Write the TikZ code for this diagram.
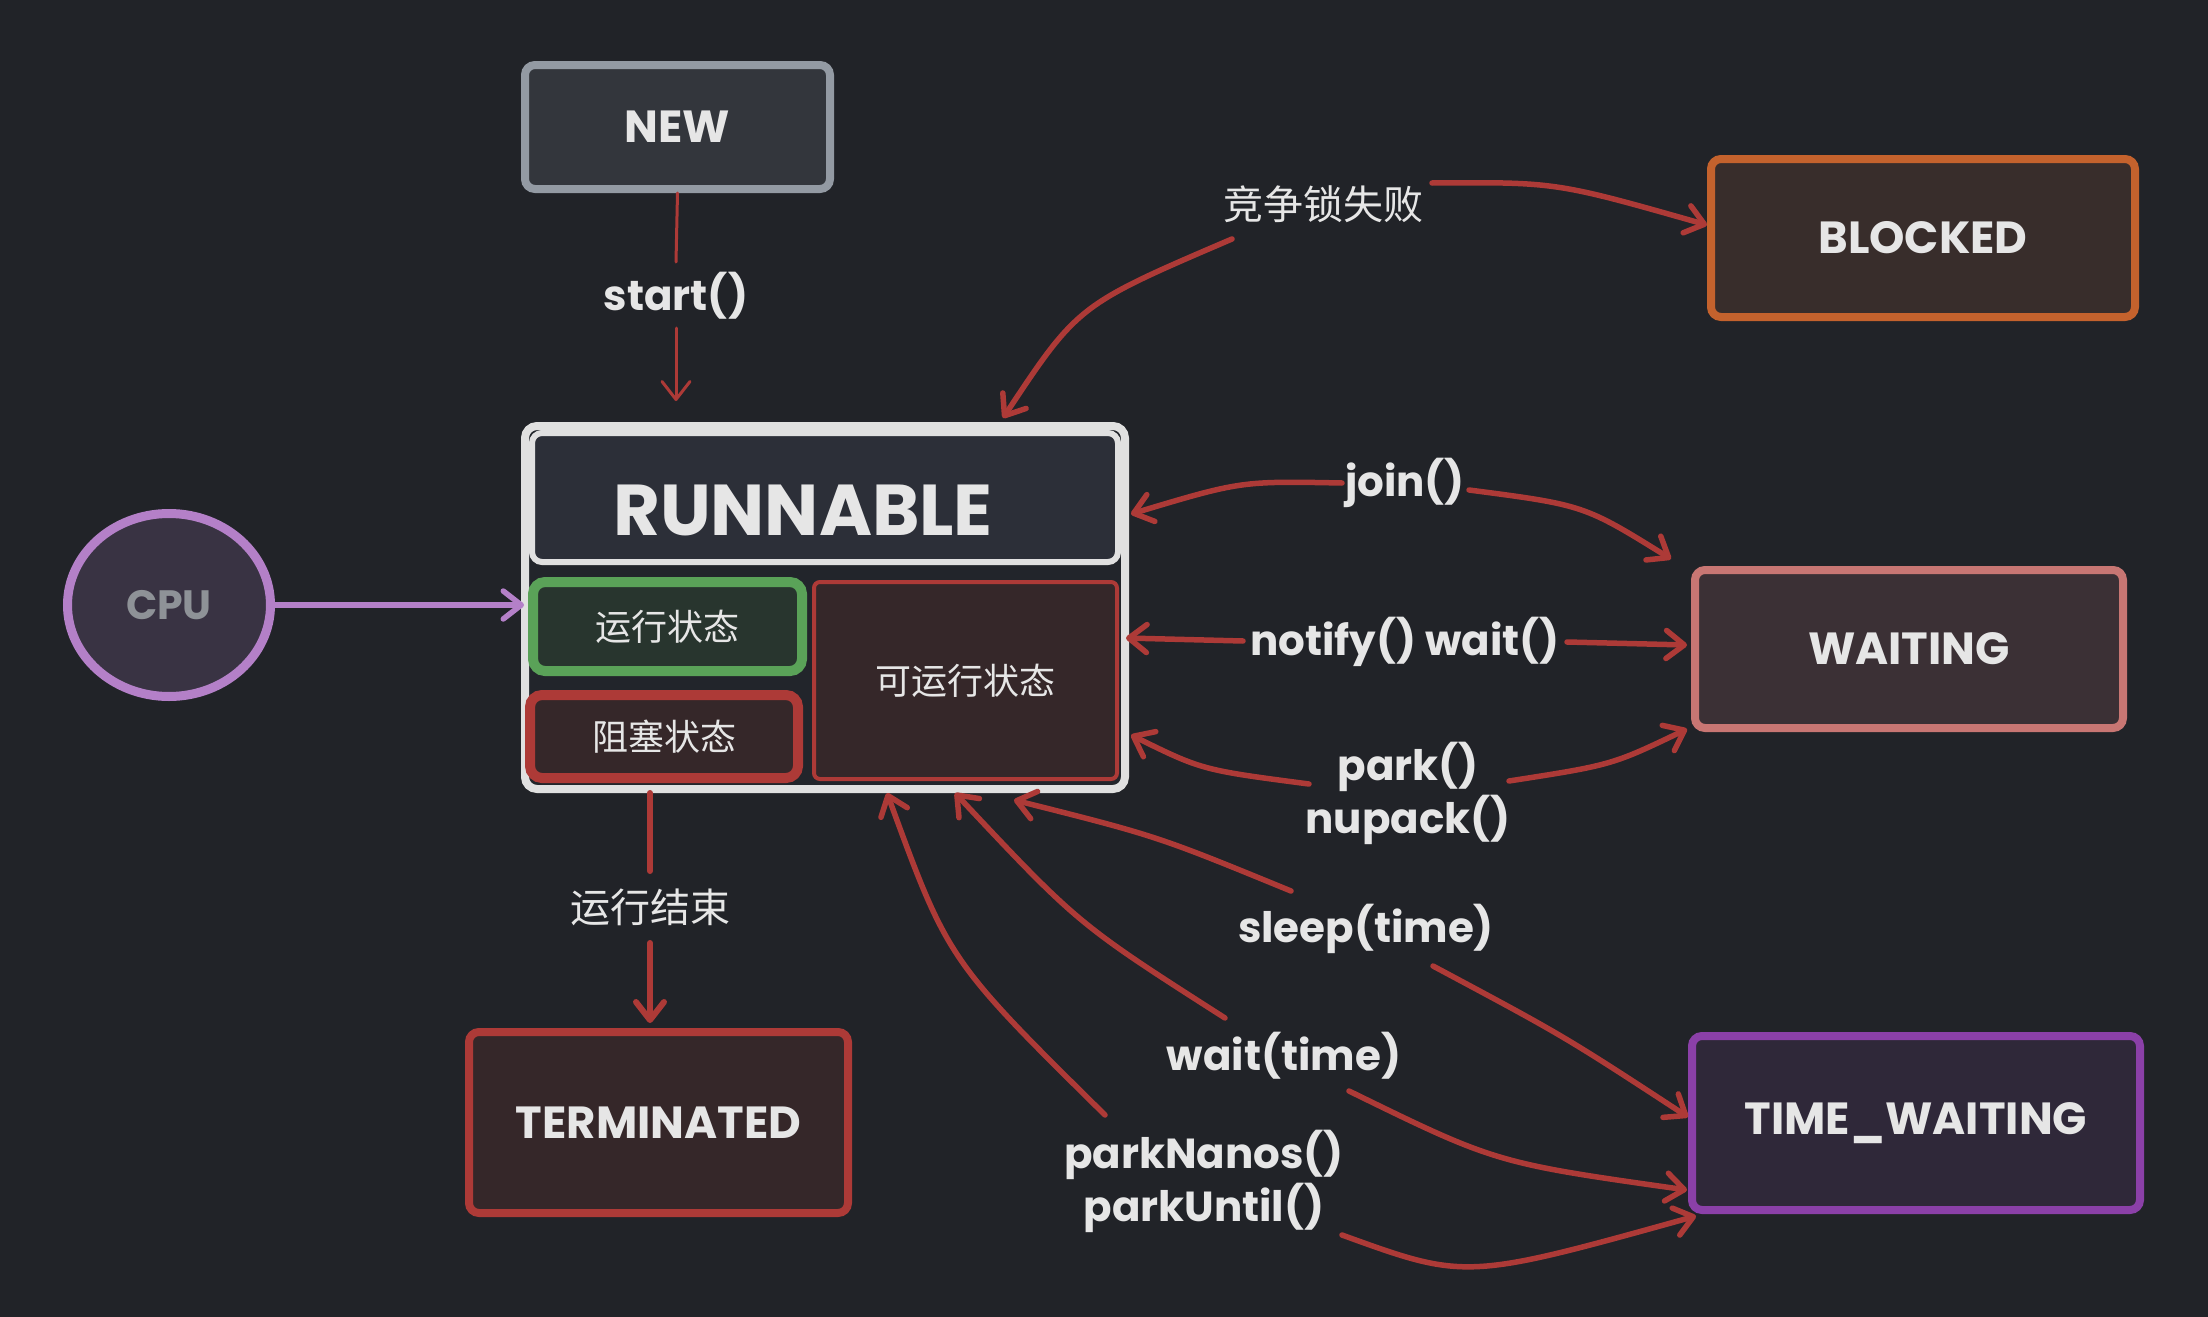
\documentclass[tikz,border=0pt]{standalone}
\usepackage{fontspec}
\setmainfont{Poppins}
\newfontfamily\cjkfont{Noto Sans CJK SC}
\usetikzlibrary{arrows.meta,calc,shapes.geometric}
\definecolor{bg}{HTML}{212328}
\definecolor{txt}{HTML}{E6E6E6}
\definecolor{arrred}{HTML}{AD3A37}
\definecolor{redfill}{HTML}{352729}
\definecolor{newst}{HTML}{939AA3}
\definecolor{newfill}{HTML}{33363C}
\definecolor{blkst}{HTML}{C4622D}
\definecolor{blkfill}{HTML}{382D2B}
\definecolor{waitst}{HTML}{C87673}
\definecolor{waitfill}{HTML}{3B3035}
\definecolor{twst}{HTML}{8B40A8}
\definecolor{twfill}{HTML}{2F2839}
\definecolor{cpust}{HTML}{B480C8}
\definecolor{cpufill}{HTML}{393343}
\definecolor{cputxt}{HTML}{8E9297}
\definecolor{runst}{HTML}{E0E0E0}
\definecolor{runbg}{HTML}{22252B}
\definecolor{headfill}{HTML}{2C2F38}
\definecolor{grnst}{HTML}{5AA258}
\definecolor{grnfill}{HTML}{28352E}
\newcommand\myTitleFont{\fontsize{22.5}{26}\selectfont\bfseries}
\newcommand\myLblFont{\fontsize{21}{26.5}\selectfont\bfseries}
\begin{document}
\begin{tikzpicture}[x=0.5pt,y=-0.5pt,
  statebox/.style={draw, rounded corners=5pt, line width=4pt, inner sep=0pt, text=txt, font=\myTitleFont},
  lbl/.style={text=txt, font=\myLblFont, inner sep=2pt, align=center},
  cjklbl/.style={text=txt, font=\cjkfont\fontsize{20}{24}\selectfont, inner sep=2pt},
  arr/.style={draw=arrred, line width=2.75pt, line cap=round, -{Straight Barb[length=9pt,width=14pt,round]}},
  seg/.style={draw=arrred, line width=2.75pt, line cap=round},
  inbox/.style={rounded corners=6pt, inner sep=0pt, text=txt, font=\cjkfont\fontsize{18}{22}\selectfont}
]
\fill[bg] (0,0) rectangle (2208,1317);
\useasboundingbox (0,0) rectangle (2208,1317);

% state nodes
\node[statebox, draw=newst, fill=newfill, minimum width=152.5pt, minimum height=62pt] (new) at (677.5,127) {NEW};
\node[statebox, draw=blkst, fill=blkfill, minimum width=212pt, minimum height=79pt] (blocked) at (1923,238) {BLOCKED};
\node[statebox, draw=waitst, fill=waitfill, minimum width=214pt, minimum height=79pt] (waiting) at (1909,649) {WAITING};
\node[statebox, draw=twst, fill=twfill, minimum width=224pt, minimum height=87pt] (tw) at (1916,1123) {TIME\_WAITING};
\node[statebox, draw=arrred, fill=redfill, minimum width=189.5pt, minimum height=90.5pt] (term) at (658.5,1122.5) {TERMINATED};
\node[ellipse, draw=cpust, fill=cpufill, line width=4.5pt, minimum width=101.5pt, minimum height=91.5pt, inner sep=0pt, text=cputxt, font=\fontsize{20.5}{24}\selectfont\bfseries] (cpu) at (169,605) {CPU};

% RUNNABLE composite
\node[draw=runst, fill=runbg, line width=4pt, rounded corners=6pt, minimum width=300pt, minimum height=181.5pt] (run) at (825,607.5) {};
\node[draw=runst, fill=headfill, line width=3pt, rounded corners=5pt, minimum width=293pt, minimum height=64.5pt] (runhead) at (825,497.5) {};
\node[text=txt, font=\fontsize{36}{40}\selectfont\bfseries] (runtxt) at (803,510) {RUNNABLE};
\node[inbox, draw=grnst, fill=grnfill, line width=5pt, minimum width=134.5pt, minimum height=44.5pt] (running) at (667.5,626.5) {运行状态};
\node[inbox, draw=arrred, fill=redfill, line width=5pt, minimum width=134pt, minimum height=41.5pt] (blockst) at (664,736.5) {阻塞状态};
\node[inbox, draw=arrred, fill=redfill, line width=2pt, rounded corners=3pt, minimum width=151.5pt, minimum height=98.5pt] (ready) at (965.5,680.5) {可运行状态};

% labels
\node[lbl] (lstart) at (676,296) {start()};
\node[cjklbl] (llock) at (1323,204) {竞争锁失败};
\node[lbl] (ljoin) at (1405,483) {join()};
\node[lbl] (lnotify) at (1405,642) {notify() wait()};
\node[lbl] (lpark) at (1408,793) {park()\\nupack()};
\node[lbl] (lsleep) at (1366,929) {sleep(time)};
\node[lbl] (lwait) at (1284,1056) {wait(time)};
\node[lbl] (lpn) at (1204,1181) {parkNanos()\\parkUntil()};
\node[cjklbl] (lend) at (650,907) {运行结束};

% connectors
\draw[seg, line width=1.5pt] (new.south) -- ($(lstart)+(0,-34)$);
\draw[arr, line width=1.5pt] ($(lstart)+(0,32)$) -- ($(run.north west)+(155,-21)$);

\draw[arr] ($(llock)+(109,-21)$) .. controls (1556,182) .. ($(blocked.west)+(0,-13)$);
\draw[arr] ($(llock)+(-91,35)$) .. controls (1078,305) .. ($(run.north east)+(-126,-4)$);

\draw[arr] ($(ljoin)+(-63,0)$) .. controls (1241,481) .. ($(run.east)+(2,-93.5)$);
\draw[arr] ($(ljoin)+(64,7)$) .. controls (1584,505) .. ($(waiting.north west)+(-20,-7)$);

\draw[arr] ($(lnotify)+(-162,-1)$) -- ($(run.east)+(-3,30.5)$);
\draw[arr] ($(lnotify)+(162,0)$) -- ($(waiting.west)+(-4,-4)$);

\draw[arr] ($(lpark)+(-99,-9)$) .. controls (1202,770) .. ($(run.south east)+(2,-58)$);
\draw[arr] ($(lpark)+(101,-12)$) .. controls (1612,765) .. ($(waiting.south west)+(-4,-3)$);

\draw[arr] ($(lsleep)+(-75,-38)$) .. controls (1157,836) .. ($(run.south east)+(-115,7)$);
\draw[arr] ($(lsleep)+(67,37)$) .. controls (1564,1036) .. ($(tw.west)+(0,-6)$);

\draw[arr] ($(lwait)+(-59,-38)$) .. controls (1078,924) .. ($(run.south east)+(-174,0)$);
\draw[arr] ($(lwait)+(65,35)$) .. controls (1496,1163) .. ($(tw.south west)+(-1,-24)$);

\draw[arr] ($(lpn)+(-99,-66)$) .. controls (948,960) .. ($(run.south east)+(-242,0)$);
\draw[arr] ($(lpn)+(138,54)$) .. controls (1466,1280) .. ($(tw.south west)+(8,2)$);

\draw[seg, line width=3pt] ($(run.south west)+(129,0)$) -- ($(lend)+(0,-36)$);
\draw[arr, line width=3pt] ($(lend)+(0,36)$) -- ($(term.north)+(-8.5,-5)$);

\draw[arr, draw=cpust] (cpu.east) -- ($(run.west)+(3,-2.5)$);
\end{tikzpicture}
\end{document}
